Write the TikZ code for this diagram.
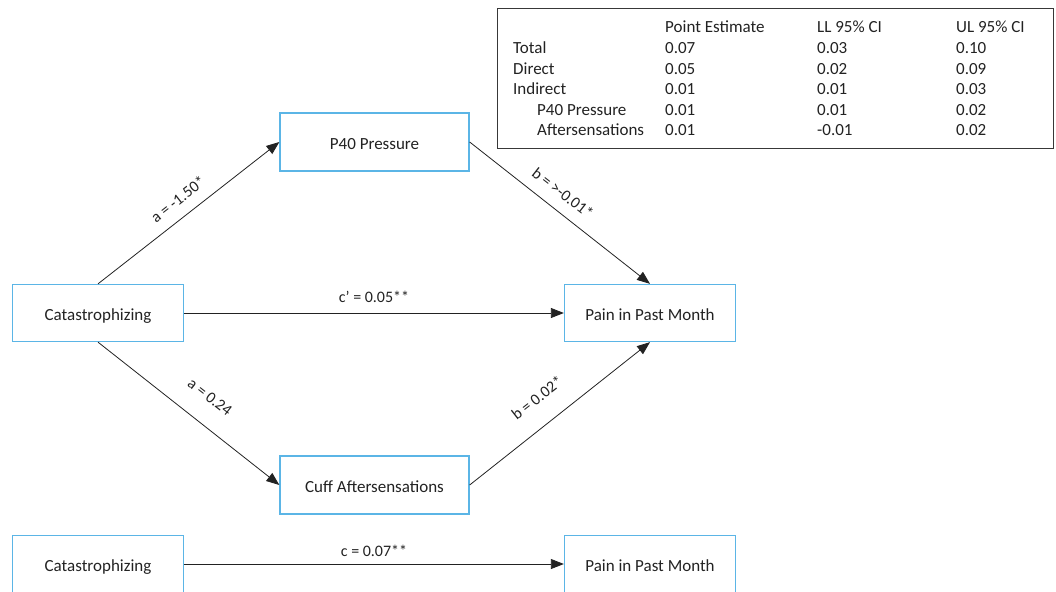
\documentclass[tikz,border=0pt]{standalone}
\usepackage{fontspec}
\setmainfont{Carlito}
\usetikzlibrary{arrows.meta}
\definecolor{boxblue}{HTML}{5BB5E6}
\definecolor{ink}{HTML}{222222}
\tikzset{
  varbox/.style={draw=boxblue, line width=1.3pt, minimum width=171pt, minimum height=57pt, inner sep=0pt, text height=17pt, text depth=3pt, font=\fontsize{17}{20}\selectfont, text=ink},
  medbox/.style={varbox, minimum width=189pt, minimum height=58pt},
  path/.style={draw=ink, line width=0.8pt, -{Triangle[length=13pt,width=10pt]}},
  lbl/.style={font=\fontsize{16}{18}\selectfont, text=ink, inner sep=1pt},
  tcell/.style={font=\fontsize{17}{20}\selectfont, text=ink, anchor=west, inner sep=0pt}
}
\begin{document}
\begin{tikzpicture}[x=1pt,y=-1pt]
\useasboundingbox (0,0) rectangle (1056,591);
\clip (0,0) rectangle (1056,591);
% table
\node[draw=ink!90, line width=1.1pt, minimum width=556pt, minimum height=140pt, anchor=north west, inner sep=0pt] (tab) at (497,8) {};
\node[tcell] (h1) at (665,27) {Point Estimate};
\node[tcell] (h2) at (817,27) {LL 95\% CI};
\node[tcell] (h3) at (956,27) {UL 95\% CI};
\node[tcell] (r1) at (513,48) {Total};
\node[tcell] (r1a) at (665,48) {0.07};
\node[tcell] (r1b) at (817,48) {0.03};
\node[tcell] (r1c) at (956,48) {0.10};
\node[tcell] (r2) at (513,69) {Direct};
\node[tcell] (r2a) at (665,69) {0.05};
\node[tcell] (r2b) at (817,69) {0.02};
\node[tcell] (r2c) at (956,69) {0.09};
\node[tcell] (r3) at (513,89) {Indirect};
\node[tcell] (r3a) at (665,89) {0.01};
\node[tcell] (r3b) at (817,89) {0.01};
\node[tcell] (r3c) at (956,89) {0.03};
\node[tcell] (r4) at (537,110) {P40 Pressure};
\node[tcell] (r4a) at (665,110) {0.01};
\node[tcell] (r4b) at (817,110) {0.01};
\node[tcell] (r4c) at (956,110) {0.02};
\node[tcell] (r5) at (537,130) {Aftersensations};
\node[tcell] (r5a) at (665,130) {0.01};
\node[tcell] (r5b) at (817,130) {-0.01};
\node[tcell] (r5c) at (956,130) {0.02};
% boxes
\node[varbox] (cat) at (98,313) {Catastrophizing};
\node[medbox] (p40) at (374.5,142) {P40 Pressure};
\node[varbox] (pain) at (650,313) {Pain in Past Month};
\node[medbox] (cuff) at (374.5,485) {Cuff Aftersensations};
\node[varbox, anchor=north] (cat2) at (98,535) {Catastrophizing};
\node[varbox, anchor=north] (pain2) at (650,535) {Pain in Past Month};
% paths
\draw[path] (cat.north) -- (p40.west);
\draw[path] (p40.east) -- (pain.north);
\draw[path] (cat.east) -- node[lbl, above=9pt] {c’ = 0.05**} (pain.west);
\draw[path] (cat2.east |- 0,564) coordinate (c2s) -- node[lbl, above=6pt] {c = 0.07**} (pain2.west |- 0,564);
\draw[path] (cat.south) -- (cuff.west);
\draw[path] (cuff.east) -- (pain.south);
% slanted labels
\node[lbl, rotate=38] (la) at (178,199) {a = -1.50*};
\node[lbl, rotate=-38] (lb) at (563,193) {b = >-0.01*};
\node[lbl, rotate=-38] (la2) at (210,397) {a = 0.24};
\node[lbl, rotate=38] (lb2) at (537,398) {b = 0.02*};
\end{tikzpicture}
\end{document}
